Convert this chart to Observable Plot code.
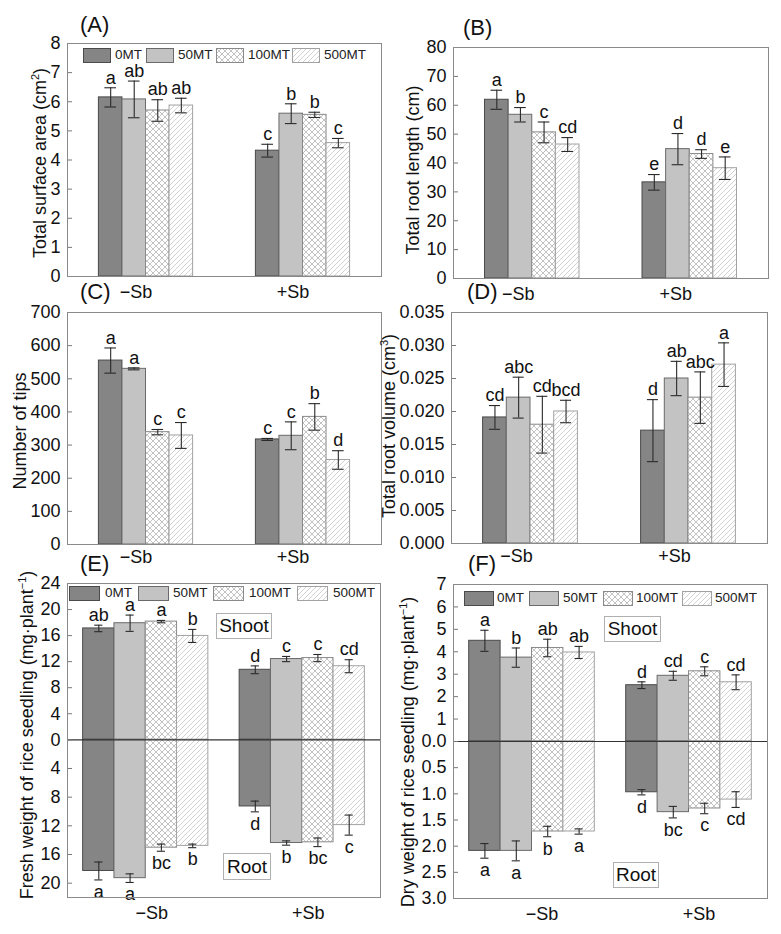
<!DOCTYPE html>
<html><head><meta charset="utf-8">
<script src="https://cdn.jsdelivr.net/npm/d3@7"></script>
<script src="https://cdn.jsdelivr.net/npm/@observablehq/plot@0.6"></script>
<style>
body{margin:0;background:#fff;font-family:"Liberation Sans",Arial,sans-serif;color:#111;}
#root{position:relative;width:781px;height:934px;overflow:hidden;background:#fff;}
.panel{position:absolute;}
.ptag{position:absolute;font-size:22px;line-height:1;transform:translateY(-50%);}
.ytitle{position:absolute;font-size:18px;white-space:nowrap;line-height:1;transform:translate(-50%,-50%) rotate(-90deg);}
.ytitle sup{font-size:11px;vertical-align:7px;line-height:0;}
.sw{position:absolute;}
.lt{position:absolute;font-size:13.5px;color:#222;line-height:1;transform:translateY(-50%);}
.box{position:absolute;border:1px solid #b0b0b0;font-size:19px;display:flex;align-items:center;justify-content:center;box-sizing:border-box;background:#fff;}
</style></head>
<body>
<svg width="0" height="0" style="position:absolute">
 <defs>
  <pattern id="cross" patternUnits="userSpaceOnUse" width="6" height="6">
   <rect width="6" height="6" fill="#fff"/>
   <path d="M0,0L6,6M6,0L0,6" stroke="#9a9a9a" stroke-width="0.6"/>
  </pattern>
  <pattern id="diag" patternUnits="userSpaceOnUse" width="5" height="5">
   <rect width="5" height="5" fill="#fff"/>
   <path d="M-1,1L1,-1M0,5L5,0M4,6L6,4" stroke="#b4b4b4" stroke-width="0.6"/>
  </pattern>
 </defs>
</svg>
<div id="root"></div>
<script>
const groups = ["−Sb", "+Sb"];
const series = ["0MT", "50MT", "100MT", "500MT"];

// (A) Total surface area (cm2)
const areaMean = [[6.15, 6.08, 5.70, 5.87], [4.32, 5.59, 5.55, 4.58]];
const areaErr = [[0.33, 0.63, 0.37, 0.25], [0.22, 0.34, 0.09, 0.16]];
const areaLetters = [["a", "ab", "ab", "ab"], ["c", "b", "b", "c"]];
const areaTicks = [0, 1, 2, 3, 4, 5, 6, 7, 8];

// (B) Total root length (cm)
const lengthMean = [[61.9, 56.7, 50.6, 46.4], [33.3, 44.8, 43.1, 38.2]];
const lengthErr = [[3.3, 2.5, 3.6, 2.4], [2.7, 5.4, 1.5, 3.9]];
const lengthLetters = [["a", "b", "c", "cd"], ["e", "d", "d", "e"]];
const lengthTicks = [0, 10, 20, 30, 40, 50, 60, 70, 80];

// (C) Number of tips
const tipsMean = [[555, 530, 339, 329], [317, 328, 385, 255]];
const tipsErr = [[38, 3, 8, 39], [3, 42, 40, 28]];
const tipsLetters = [["a", "a", "c", "c"], ["c", "c", "b", "d"]];
const tipsTicks = [0, 100, 200, 300, 400, 500, 600, 700];

// (D) Total root volume (cm3)
const volMean = [[0.0191, 0.0221, 0.0180, 0.0200], [0.0171, 0.0250, 0.0221, 0.0271]];
const volErr = [[0.0018, 0.0031, 0.0043, 0.0017], [0.0047, 0.0026, 0.0039, 0.0033]];
const volLetters = [["cd", "abc", "cd", "bcd"], ["d", "ab", "abc", "a"]];
const volTicks = [0, 0.005, 0.010, 0.015, 0.020, 0.025, 0.030, 0.035];

// (E) Fresh weight (mg·plant-1), shoot up / root down
const freshShoot = [[17.1, 17.9, 18.15, 15.95], [10.75, 12.4, 12.55, 11.3]];
const freshShootErr = [[0.5, 1.25, 0.18, 1.0], [0.6, 0.4, 0.55, 1.0]];
const freshShootLetters = [["ab", "a", "a", "b"], ["d", "c", "c", "cd"]];
const freshRoot = [[18.3, 19.3, 15.05, 14.8], [9.3, 14.4, 14.3, 11.9]];
const freshRootErr = [[1.25, 0.6, 0.5, 0.25], [0.75, 0.3, 0.6, 1.4]];
const freshRootLetters = [["a", "a", "bc", "b"], ["d", "b", "bc", "c"]];
const freshTicks = [-20, -16, -12, -8, -4, 0, 4, 8, 12, 16, 20, 24];

// (F) Dry weight (mg·plant-1)
const dryShoot = [[4.49, 3.74, 4.17, 3.97], [2.51, 2.93, 3.13, 2.64]];
const dryShootErr = [[0.47, 0.43, 0.39, 0.27], [0.15, 0.2, 0.2, 0.33]];
const dryShootLetters = [["a", "b", "ab", "ab"], ["d", "cd", "c", "cd"]];
const dryRoot = [[2.09, 2.09, 1.72, 1.72], [0.97, 1.35, 1.28, 1.11]];
const dryRootErr = [[0.14, 0.19, 0.1, 0.05], [0.05, 0.11, 0.1, 0.15]];
const dryRootLetters = [["a", "a", "b", "a"], ["d", "bc", "c", "cd"]];
const dryTicks = [-3, -2.5, -2, -1.5, -1, -0.5, 0, 1, 2, 3, 4, 5, 6, 7];

const FILLS = ["#858585", "#c3c3c3", "url(#cross)", "url(#diag)"];
const STROKES = ["#4a4a4a", "#6a6a6a", "#8a8a8a", "#a2a2a2"];
const FONT = '"Liberation Sans", Arial, sans-serif';

function rows(mean, err, letters, sign = 1) {
  return groups.flatMap((g, gi) => series.map((s, si) => ({
    g, gi, s, si, v: sign * mean[gi][si], e: err[gi][si], l: letters[gi][si], sign
  })));
}

const root = document.getElementById("root");

// k: stretch of the negative (root) half relative to the positive half (1 = same scale)
function panel({left, top, width, height, m, data, yDomain, k = 1, yTicks, yFmt, w, start, cap, pad, ldx, zero}) {
  const fy = d => d < 0 ? d * k : d;
  const inv = t => Math.round((t < 0 ? t / k : t) * 1e6) / 1e6;
  const x1 = d => d.gi + start + d.si * w;
  const xc = d => d.gi + start + (d.si + 0.5) * w;
  const pos = data.filter(d => d.sign > 0), neg = data.filter(d => d.sign < 0);
  const ticks = yTicks.map(fy);
  const marks = [];
  series.forEach((s, j) => {
    marks.push(Plot.rect(data.filter(d => d.si === j), {
      x1, x2: d => x1(d) + w, y1: 0, y2: d => fy(d.v), fill: FILLS[j], stroke: STROKES[j], strokeWidth: 1
    }));
  });
  if (zero) marks.push(Plot.ruleY([0], {stroke: "#333", strokeWidth: 1.2}));
  marks.push(
    Plot.ruleX(data, {x: xc, y1: d => fy(d.v - d.e), y2: d => fy(d.v + d.e), stroke: "#2a2a2a", strokeWidth: 1.1}),
    Plot.ruleY(data, {x1: d => xc(d) - cap, x2: d => xc(d) + cap, y: d => fy(d.v + d.e), stroke: "#2a2a2a", strokeWidth: 1.1}),
    Plot.ruleY(data, {x1: d => xc(d) - cap, x2: d => xc(d) + cap, y: d => fy(d.v - d.e), stroke: "#2a2a2a", strokeWidth: 1.1}),
    Plot.text(pos, {x: xc, y: d => fy(d.v + d.e), text: "l", dy: -10, fontSize: 18, fill: "#111"}),
    Plot.text(neg, {x: xc, y: d => fy(d.v - d.e), text: "l", dy: 12, fontSize: 18, fill: "#111"}),
    Plot.axisY({ticks, tickFormat: t => yFmt(inv(t)), tickSize: 0, tickPadding: 7, label: null, fontSize: 18, fill: "#111"}),
    Plot.axisY({ticks, tickFormat: () => "", tickSize: 5, dx: 5, label: null, stroke: "#777"}),
    Plot.axisX({ticks: [0.5, 1.5], tickFormat: d => groups[Math.floor(d)], tickSize: 0, tickPadding: pad, dx: ldx, label: null, fontSize: 18, fill: "#111"}),
    Plot.frame({stroke: "#8a8a8a", strokeWidth: 1})
  );
  const svg = Plot.plot({
    width, height,
    marginLeft: m[0], marginRight: m[1], marginTop: m[2], marginBottom: m[3],
    style: {fontFamily: FONT, fontSize: "18px", color: "#111", background: "transparent", overflow: "visible"},
    x: {domain: [0, 2], label: null},
    y: {domain: yDomain.map(fy), label: null},
    marks
  });
  const div = document.createElement("div");
  div.className = "panel";
  div.style.left = left + "px";
  div.style.top = top + "px";
  div.appendChild(svg);
  root.appendChild(div);
}

const intFmt = d => String(d);

panel({left: 0, top: 0, width: 390, height: 300, m: [67, 9, 43, 24],
  data: rows(areaMean, areaErr, areaLetters), yDomain: [0, 8], yTicks: areaTicks, yFmt: intFmt,
  w: 0.15, start: 0.2, cap: 0.037, pad: 9, ldx: -10});
panel({left: 390, top: 0, width: 391, height: 300, m: [63, 13, 47, 22],
  data: rows(lengthMean, lengthErr, lengthLetters), yDomain: [0, 80], yTicks: lengthTicks, yFmt: intFmt,
  w: 0.15, start: 0.2, cap: 0.037, pad: 9, ldx: -14});
panel({left: 0, top: 300, width: 390, height: 270, m: [67, 9, 12, 26],
  data: rows(tipsMean, tipsErr, tipsLetters), yDomain: [0, 700], yTicks: tipsTicks, yFmt: intFmt,
  w: 0.15, start: 0.2, cap: 0.037, pad: 6, ldx: -10});
panel({left: 390, top: 300, width: 391, height: 270, m: [61, 14, 12, 27],
  data: rows(volMean, volErr, volLetters), yDomain: [0, 0.035], yTicks: volTicks, yFmt: d3.format(".3f"),
  w: 0.15, start: 0.2, cap: 0.035, pad: 6, ldx: -14});

panel({left: 0, top: 560, width: 390, height: 374, m: [67, 10, 23, 37],
  data: rows(freshShoot, freshShootErr, freshShootLetters, 1).concat(rows(freshRoot, freshRootErr, freshRootLetters, -1)),
  yDomain: [-22, 24], k: (157.7 / 22) / (156.3 / 24), yTicks: freshTicks, yFmt: d => String(Math.abs(d)),
  w: 0.2, start: 0.1, cap: 0.026, pad: 9, ldx: 6, zero: true});
panel({left: 390, top: 560, width: 391, height: 374, m: [63, 14, 24, 36],
  data: rows(dryShoot, dryShootErr, dryShootLetters, 1).concat(rows(dryRoot, dryRootErr, dryRootLetters, -1)),
  yDomain: [-3, 7], k: 7 / 3, yTicks: dryTicks,
  yFmt: d => d === 0 ? "0.0" : d > 0 ? String(d) : Math.abs(d).toFixed(1),
  w: 0.2, start: 0.1, cap: 0.026, pad: 9, ldx: 10, zero: true});

// panel tags
[["(A)", 80, 25], ["(B)", 463, 28], ["(C)", 80, 292], ["(D)", 467, 292], ["(E)", 80, 564], ["(F)", 468, 564]]
  .forEach(([t, x, y]) => {
    const d = document.createElement("div"); d.className = "ptag"; d.textContent = t;
    d.style.left = x + "px"; d.style.top = y + "px"; root.appendChild(d);
  });

// axis titles
[["Total surface area (cm<sup>2</sup>)", 40, 163],
 ["Total root length (cm)", 413, 170],
 ["Number of tips", 20, 431],
 ["Total root volume (cm<sup>3</sup>)", 389, 426],
 ["Fresh weight of rice seedling (mg·plant<sup>−1</sup>)", 27, 735],
 ["Dry weight of rice seedling (mg·plant<sup>−1</sup>)", 408, 752]]
  .forEach(([t, x, y]) => {
    const d = document.createElement("div"); d.className = "ytitle"; d.innerHTML = t;
    d.style.left = x + "px"; d.style.top = y + "px"; root.appendChild(d);
  });

// legends
function legend(swX, txX, top, sw, sh) {
  series.forEach((s, k) => {
    const ns = "http://www.w3.org/2000/svg";
    const svg = document.createElementNS(ns, "svg");
    svg.setAttribute("width", sw); svg.setAttribute("height", sh);
    svg.setAttribute("class", "sw");
    svg.style.left = swX[k] + "px"; svg.style.top = top + "px";
    const r = document.createElementNS(ns, "rect");
    r.setAttribute("x", 0.5); r.setAttribute("y", 0.5);
    r.setAttribute("width", sw - 1); r.setAttribute("height", sh - 1);
    r.setAttribute("fill", FILLS[k]); r.setAttribute("stroke", STROKES[k]);
    svg.appendChild(r); root.appendChild(svg);
    const t = document.createElement("div"); t.className = "lt"; t.textContent = s;
    t.style.left = txX[k] + "px"; t.style.top = (top + sh / 2 - 1) + "px"; root.appendChild(t);
  });
}
legend([83, 146, 216, 292], [115, 178, 248, 324], 48, 28, 15);
legend([69, 138, 213, 297], [105, 173, 249, 333], 586, 31, 15);
legend([464, 529, 603, 682], [497, 563, 636, 715], 591, 30, 15);

// Shoot / Root boxes
[["Shoot", 216, 613, 56, 26], ["Root", 223, 853, 48, 27], ["Shoot", 604, 616, 57, 26], ["Root", 613, 862, 46, 26]]
  .forEach(([t, x, y, w, h]) => {
    const d = document.createElement("div"); d.className = "box"; d.textContent = t;
    d.style.left = x + "px"; d.style.top = y + "px"; d.style.width = w + "px"; d.style.height = h + "px";
    root.appendChild(d);
  });
</script>
</body></html>
